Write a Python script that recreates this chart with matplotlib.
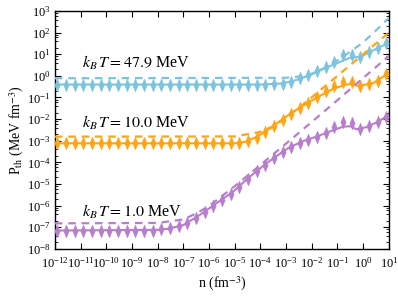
import numpy as np
import matplotlib
matplotlib.use("Agg")
import matplotlib.pyplot as plt
from matplotlib.ticker import LogLocator, NullLocator
from matplotlib.path import Path

plt.rcParams['font.family'] = ['Liberation Serif', 'DejaVu Serif']
plt.rcParams['mathtext.fontset'] = 'stix'

# ---- data (log10 values) ----
logn_markers = [-11.90, -11.56, -11.23, -10.89, -10.55, -10.22, -9.88, -9.54, -9.21,
                -8.87, -8.53, -8.20, -7.86, -7.52, -7.18, -6.85, -6.51, -6.17, -5.84,
                -5.50, -5.16, -4.83, -4.49, -4.15, -3.82, -3.48, -3.14, -2.81, -2.47,
                -2.13, -1.80, -1.46, -1.12, -0.79, -0.45, -0.11, 0.22, 0.56, 0.90]

# T = 47.9 MeV
logP_mk_479 = [-0.40] * 25 + [-0.39, -0.36, -0.28, -0.12, 0.02, 0.22, 0.42, 0.64, 0.98,
                              0.95, 0.88, 1.10, 1.28, 1.50]
logn_sol_479 = [-12.0, -4.0, -3.25, -2.8, -2.47, -2.0, -1.69, -1.04, -0.52, -0.3, -0.1, 0.2, 0.6, 1.0]
logP_sol_479 = [-0.40, -0.40, -0.36, -0.26, -0.14, 0.07, 0.25, 0.58, 0.83, 0.86, 0.88, 1.07, 1.30, 1.53]
logn_dash_479 = [-12.0, -3.0, -2.5, -2.0, -1.5, -1.0, -0.5, 0.0, 0.5, 1.0]
logP_dash_479 = [-0.11, -0.09, -0.03, 0.10, 0.36, 0.72, 1.12, 1.55, 2.10, 2.68]

# T = 10.0 MeV
logP_mk_100 = [-3.12] * 21 + [-3.10, -3.02, -2.85, -2.60, -2.33, -2.05, -1.75, -1.50, -1.25,
                              -1.00, -0.72, -0.45, -0.30, -0.30, -0.45, -0.38, -0.22, 0.08]
logn_sol_100 = [-12.0, -5.0, -4.6, -4.2, -3.76, -3.25, -2.8, -2.47, -1.8, -1.17, -0.7, -0.45,
                -0.2, 0.1, 0.4, 0.7, 1.0]
logP_sol_100 = [-3.12, -3.12, -3.05, -2.85, -2.55, -2.10, -1.72, -1.47, -1.00, -0.60, -0.42,
                -0.36, -0.46, -0.40, -0.33, -0.10, 0.15]
logn_dash_100 = [-12.0, -5.0, -4.0, -3.5, -3.0, -2.5, -2.0, -1.0, 0.0, 1.0]
logP_dash_100 = [-2.81, -2.80, -2.59, -2.33, -1.94, -1.48, -0.99, 0.00, 1.00, 2.00]

# T = 1.0 MeV
logP_mk_10 = [-7.15] * 12 + [-7.10, -7.05, -6.95, -6.78, -6.55, -6.28, -6.00, -5.72, -5.44,
                             -5.12, -4.75, -4.40, -4.10, -3.80, -3.52, -3.28, -3.12, -2.98,
                             -2.82, -2.62, -2.35, -2.15, -2.20, -2.45, -2.33, -2.15, -1.88]
logn_sol_10 = [-12.0, -8.0, -7.65, -7.0, -6.36, -5.71, -5.06, -4.41, -3.76, -3.12, -2.86, -2.3,
               -1.82, -1.3, -0.78, -0.5, -0.26, 0.13, 0.58, 0.97]
logP_sol_10 = [-7.15, -7.12, -7.08, -6.90, -6.43, -5.89, -5.35, -4.66, -4.04, -3.50, -3.30, -3.00,
               -2.81, -2.57, -2.35, -2.33, -2.47, -2.37, -2.12, -1.83]
logn_dash_10 = [-12.0, -8.0, -7.0, -6.5, -6.0, -5.0, -4.0, -3.0, -2.0, -1.0, 0.0, 1.0]
logP_dash_10 = [-6.82, -6.80, -6.64, -6.36, -6.02, -5.10, -4.12, -3.13, -2.13, -1.12, -0.10, 0.92]

labels = [r'$k_B\,T = 47.9$ MeV', r'$k_B\,T = 10.0$ MeV', r'$k_B\,T = 1.0$ MeV']
label_pos_logy = [0.58, -2.2, -6.3]
colors = ['#7dc3e0', '#ffa514', '#b77fcb']

series = [
    (logP_mk_479, logn_sol_479, logP_sol_479, logn_dash_479, logP_dash_479),
    (logP_mk_100, logn_sol_100, logP_sol_100, logn_dash_100, logP_dash_100),
    (logP_mk_10, logn_sol_10, logP_sol_10, logn_dash_10, logP_dash_10),
]

# slim vertical diamond marker
slim_diamond = Path([(0, 1), (0.42, 0), (0, -1), (-0.42, 0), (0, 1)],
                    [Path.MOVETO, Path.LINETO, Path.LINETO, Path.LINETO, Path.CLOSEPOLY])

fig = plt.figure(figsize=(3.98, 2.97), dpi=100)
ax = fig.add_axes([0.138, 0.162, 0.839, 0.801])

nm = 10.0 ** np.array(logn_markers)
for (mk, ns, ps, nd, pd), c in zip(series, colors):
    ax.plot(10.0 ** np.array(ns), 10.0 ** np.array(ps), '-', color=c, lw=1.5, zorder=2)
    ax.plot(nm, 10.0 ** np.array(mk), linestyle='none', marker=slim_diamond, ms=9,
            color=c, mec=c, mew=0.4, zorder=3)
    ax.plot(10.0 ** np.array(nd), 10.0 ** np.array(pd), color=c, lw=1.6,
            dashes=(3.4, 2.6), zorder=4)

for lab, ly in zip(labels, label_pos_logy):
    ax.text(10 ** -10.95, 10 ** ly, lab, fontsize=11.5, ha='left', va='center')

ax.set_xscale('log')
ax.set_yscale('log')
ax.set_xlim(1e-12, 1e1)
ax.set_ylim(1e-8, 1e3)
ax.xaxis.set_major_locator(LogLocator(base=10, numticks=20))
ax.xaxis.set_minor_locator(NullLocator())
ax.yaxis.set_major_locator(LogLocator(base=10, numticks=20))
ax.yaxis.set_minor_locator(LogLocator(base=10, subs=(2, 4, 6, 8), numticks=20))
ax.tick_params(which='both', direction='in', top=True, right=True, labelsize=9)
ax.tick_params(which='major', length=4, width=0.8)
ax.tick_params(which='minor', length=2, width=0.6)
ax.tick_params(axis='x', pad=5)
ax.tick_params(axis='y', pad=3)
for s in ax.spines.values():
    s.set_linewidth(1.0)

ax.set_xlabel(r'n (fm$^{-3}$)', fontsize=10, labelpad=3)
ax.set_ylabel(r'P$_{\rm th}$ (MeV fm$^{-3}$)', fontsize=10, labelpad=1)

fig.savefig('out.png', dpi=100)
